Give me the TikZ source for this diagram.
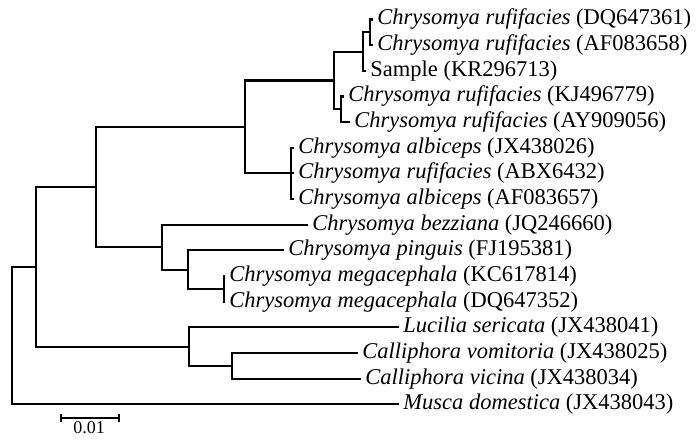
\documentclass[tikz,border=0pt]{standalone}
\usepackage{fontspec}
\setmainfont{Liberation Serif}
\begin{document}
\begin{tikzpicture}[x=0.5pt,y=-0.5pt,
  br/.style={line width=1.05pt, line join=miter},
  lab/.style={anchor=west, inner xsep=2pt, inner ysep=0pt, font=\fontsize{11.25}{13}\selectfont},
  sclab/.style={inner sep=0pt, font=\fontsize{9}{11}\selectfont}]
\useasboundingbox (0,0) rectangle (700,440);
% leaves
\node[lab] (l1)  at (373,19.5)  {\textit{Chrysomya rufifacies} (DQ647361)};
\node[lab] (l2)  at (373,45.2)  {\textit{Chrysomya rufifacies} (AF083658)};
\node[lab] (l3)  at (366,70.8)  {Sample (KR296713)};
\node[lab] (l4)  at (344,96.5)  {\textit{Chrysomya rufifacies} (KJ496779)};
\node[lab] (l5)  at (350,122.1) {\textit{Chrysomya rufifacies} (AY909056)};
\node[lab] (l6)  at (294,147.8) {\textit{Chrysomya albiceps} (JX438026)};
\node[lab] (l7)  at (294,173.4) {\textit{Chrysomya rufifacies} (ABX6432)};
\node[lab] (l8)  at (294,199.1) {\textit{Chrysomya albiceps} (AF083657)};
\node[lab] (l9)  at (308,224.7) {\textit{Chrysomya bezziana} (JQ246660)};
\node[lab] (l10) at (284,250.4) {\textit{Chrysomya pinguis} (FJ195381)};
\node[lab] (l11) at (225,276.0) {\textit{Chrysomya megacephala} (KC617814)};
\node[lab] (l12) at (225,301.7) {\textit{Chrysomya megacephala} (DQ647352)};
\node[lab] (l13) at (399,327.3) {\textit{Lucilia sericata} (JX438041)};
\node[lab] (l14) at (358,353.0) {\textit{Calliphora vomitoria} (JX438025)};
\node[lab] (l15) at (361,378.6) {\textit{Calliphora vicina} (JX438034)};
\node[lab] (l16) at (399,404.3) {\textit{Musca domestica} (JX438043)};
% internal nodes
\coordinate (D) at (370,32.35);
\coordinate (B) at (363,51.6);
\coordinate (C) at (341,109.3);
\coordinate (R) at (334,80.5);
\coordinate (E) at (291,173.4);
\coordinate (A) at (245,127.0);
\coordinate (I) at (224,288.9);
\coordinate (H) at (188,269.6);
\coordinate (G) at (162,247.2);
\coordinate (F) at (96,187.1);
\coordinate (K) at (232,365.8);
\coordinate (J) at (189,346.6);
\coordinate (L) at (36,266.8);
\coordinate (Rt) at (12,335.5);
% branches
\draw[br] (l1.west) -| (D) |- (l2.west);
\draw[br] (D) -| (B) |- (l3.west);
\draw[br] (l4.west) -| (C) |- (l5.west);
\draw[br] (B) -| (R) |- (C);
\draw[br] (l6.west) -| (E) |- (l8.west);
\draw[br] (E) -- (l7.west);
\draw[br] (R) -| (A) |- (E);
\draw[br] (l11.west) -| (I) |- (l12.west);
\draw[br] (l10.west) -| (H) |- (I);
\draw[br] (l9.west) -| (G) |- (H);
\draw[br] (A) -| (F) |- (G);
\draw[br] (l14.west) -| (K) |- (l15.west);
\draw[br] (l13.west) -| (J) |- (K);
\draw[br] (F) -| (L) |- (J);
\draw[br] (L) -| (Rt) |- (l16.west);
% scale bar
\coordinate (s1) at (61,418);
\coordinate (s2) at (119,418);
\draw[br] (s1) -- (s2);
\draw[br] ([yshift=2pt]s1) -- ([yshift=-2pt]s1);
\draw[br] ([yshift=2pt]s2) -- ([yshift=-2pt]s2);
\node[sclab] (sc) at (89,428) {0.01};
\end{tikzpicture}
\end{document}
